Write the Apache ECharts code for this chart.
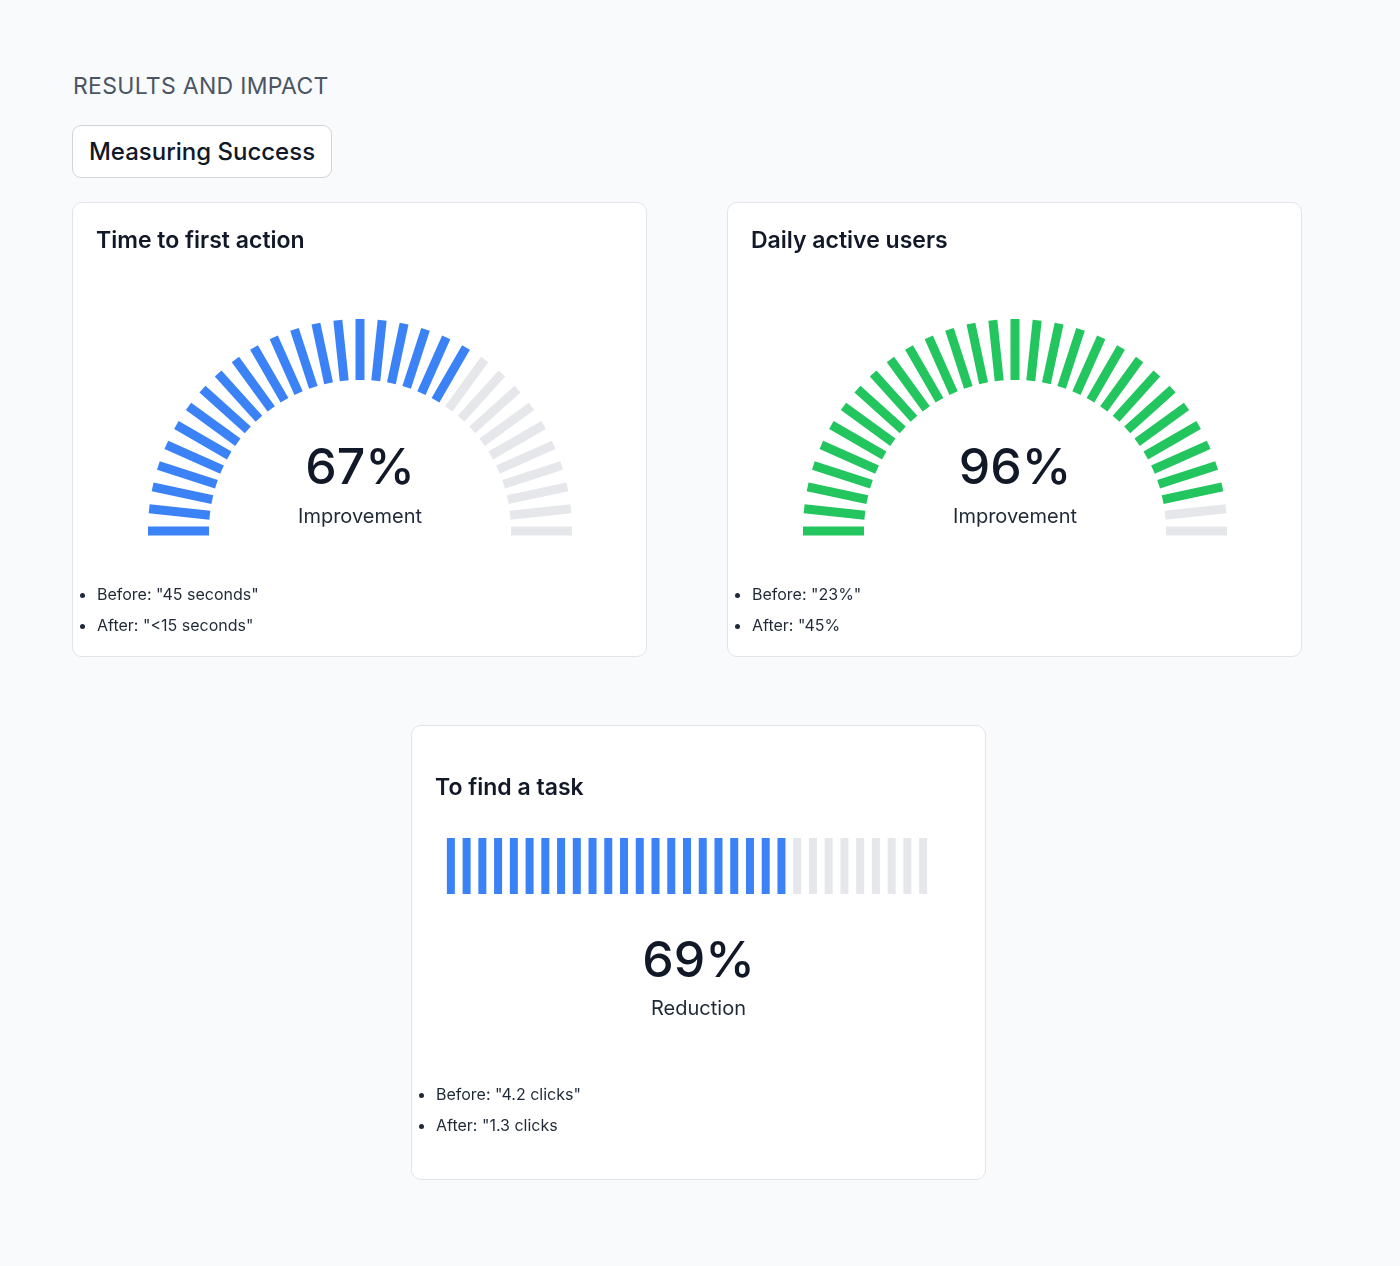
<!DOCTYPE html>
<html><head><meta charset="utf-8">
<script src="https://cdn.jsdelivr.net/npm/echarts@6/dist/echarts.min.js"></script>
<style>
body{margin:0;width:1400px;height:1266px;background:#f9fafb;font-family:Inter,"Noto Sans",sans-serif;position:relative;color:#111827}
.abs{position:absolute}
.card{position:absolute;background:#fff;border:1px solid #e2e4e8;border-radius:10px;width:575px;height:455px;box-sizing:border-box}
.ct{position:absolute;left:23px;font-size:23px;font-weight:600;color:#111827}
ul{position:absolute;margin:0;padding-left:24px;font-size:16px;color:#1f2937;line-height:31px}
.big{position:absolute;width:100%;text-align:center;font-size:50px;font-weight:500;color:#111827}
.sub{position:absolute;width:100%;text-align:center;font-size:20px;color:#1f2937}
</style></head><body>
<div class="abs" style="left:73px;top:72px;font-size:23px;color:#4b5563;letter-spacing:0.3px">RESULTS AND IMPACT</div>
<div class="abs" style="left:72px;top:125px;width:258px;height:51px;border:1px solid #d1d5db;border-radius:9px;background:#fff;box-sizing:content-box;font-size:24px;font-weight:500;line-height:51px;text-align:center;color:#111827">Measuring Success</div>

<div class="card" style="left:72px;top:202px"><div id="g1" style="position:absolute;left:0;top:0;width:575px;height:455px"></div>
<div class="ct" style="top:23px">Time to first action</div>
<ul style="top:376px"><li>Before: "45 seconds"</li><li>After: "&lt;15 seconds"</li></ul></div>

<div class="card" style="left:727px;top:202px"><div id="g2" style="position:absolute;left:0;top:0;width:575px;height:455px"></div>
<div class="ct" style="top:23px">Daily active users</div>
<ul style="top:376px"><li>Before: "23%"</li><li>After: "45%</li></ul></div>

<div class="card" style="left:411px;top:725px"><div id="b1" style="position:absolute;left:0;top:0;width:575px;height:455px"></div>
<div class="ct" style="top:47px">To find a task</div>
<div class="big" style="top:203px" id="t3v"></div>
<div class="sub" style="top:270px" id="t3s"></div>
<ul style="top:353px"><li>Before: "4.2 clicks"</li><li>After: "1.3 clicks</li></ul></div>

<script>
const gaugeValues = [67, 96];
const gaugeLabels = ["Improvement", "Improvement"];
const gaugeColors = ["#3b82f6", "#22c55e"];
const barValue = 69;
const barLabel = "Reduction";
const barCount = 31;
const emptyColor = "#e5e7eb";

function gauge(id, v, label, color){
  const c = echarts.init(document.getElementById(id));
  c.setOption({series:[{type:'gauge',startAngle:180,endAngle:0,min:0,max:100,
    center:[287,328],radius:213,splitNumber:30,
    axisLine:{show:true,lineStyle:{width:1,opacity:0,color:[[v/100,color],[1,emptyColor]]}},
    splitLine:{show:true,distance:0,length:61,lineStyle:{width:9,color:'auto',cap:'butt'}},
    axisTick:{show:false},axisLabel:{show:false},pointer:{show:false},anchor:{show:false},
    title:{show:true,offsetCenter:[0,-14],fontSize:20,color:'#1f2937',fontFamily:'Inter'},
    detail:{show:true,offsetCenter:[0,-62],fontSize:50,fontWeight:500,color:'#111827',fontFamily:'Inter',formatter:'{value}%'},
    data:[{value:v,name:label}]}]});
}
gauge('g1',gaugeValues[0],gaugeLabels[0],gaugeColors[0]);
gauge('g2',gaugeValues[1],gaugeLabels[1],gaugeColors[1]);

const filled = Math.ceil(barValue/100*barCount);
const cats = Array.from({length:barCount},(_, i)=>i);
const b = echarts.init(document.getElementById('b1'));
b.setOption({grid:{left:31,top:112,width:488,height:56},
  xAxis:{type:'category',data:cats,show:false},
  yAxis:{type:'value',min:0,max:1,show:false},
  series:[{type:'bar',barWidth:8,silent:true,
    data:cats.map(i=>({value:1,itemStyle:{color:i<filled?gaugeColors[0]:emptyColor}}))}]});
document.getElementById('t3v').textContent = barValue + '%';
document.getElementById('t3s').textContent = barLabel;
</script></body></html>
